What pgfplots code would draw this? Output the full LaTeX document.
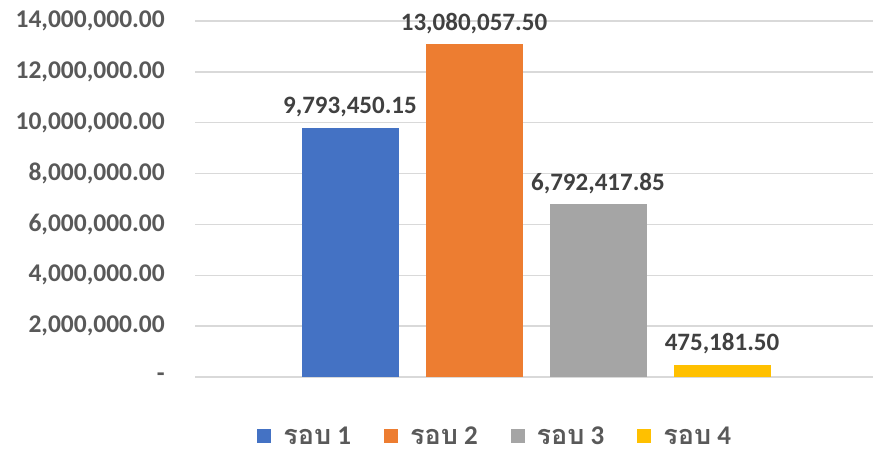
\documentclass[border=0pt]{standalone}
\usepackage{fontspec}
\setmainfont{Carlito}
\newfontfamily\thaifont[Script=Thai]{Loma}
\usepackage{pgfplots}
\pgfplotsset{compat=1.18}
\definecolor{cblue}{HTML}{4472C4}
\definecolor{corange}{HTML}{ED7D31}
\definecolor{cgray}{HTML}{A5A5A5}
\definecolor{cyellow}{HTML}{FFC000}
\definecolor{tickgray}{HTML}{595959}
\definecolor{labgray}{HTML}{404040}
\definecolor{gridgray}{HTML}{D9D9D9}
\begin{document}
\begin{tikzpicture}
\begin{axis}[
  at={(195pt,73pt)}, anchor=south west,
  scale only axis, width=682pt, height=356pt,
  xmin=-1.25, xmax=4.25, ymin=0, ymax=14000000,
  scaled y ticks=false,
  axis line style={draw=none},
  xtick=\empty,
  ytick={0,2000000,4000000,6000000,8000000,10000000,12000000,14000000},
  yticklabels={{-},{2,000,000.00},{4,000,000.00},{6,000,000.00},{8,000,000.00},{10,000,000.00},{12,000,000.00},{14,000,000.00}},
  major tick length=0pt,
  ymajorgrids, grid style={draw=gridgray, line width=1.3pt},
  yticklabel style={font=\fontsize{25.5}{30}\selectfont\bfseries, text=tickgray, anchor=east, inner sep=0pt, xshift=-30pt},
  ybar, bar width=97pt, bar shift=0pt,
  point meta=explicit symbolic,
  nodes near coords,
  every node near coord/.append style={font=\fontsize{25}{30}\selectfont\bfseries, text=labgray, anchor=base, yshift=14pt, inner sep=0pt},
  legend columns=4,
  legend style={at={(0.4402,-0.166)}, anchor=center, draw=none, fill=none,
    font=\fontsize{27}{31}\selectfont\bfseries, text=tickgray, inner sep=0pt,
    /tikz/every odd column/.append style={column sep=10pt},
    /tikz/every even column/.append style={column sep=31pt}},
  legend image code/.code={\fill (0pt,-7pt) rectangle (14pt,7pt);},
]
\addplot[fill=cblue, draw=none] coordinates {(0,9793450.15) [9,793,450.15]};
\addplot[fill=corange, draw=none] coordinates {(1,13080057.50) [13,080,057.50]};
\addplot[fill=cgray, draw=none] coordinates {(2,6792417.85) [6,792,417.85]};
\addplot[fill=cyellow, draw=none] coordinates {(3,475181.50) [475,181.50]};
\legend{{\thaifont รอบ} 1,{\thaifont รอบ} 2,{\thaifont รอบ} 3,{\thaifont รอบ} 4}
\end{axis}
\pgfresetboundingbox
\path[use as bounding box] (0,0) rectangle (873pt,450pt);
\end{tikzpicture}
\end{document}
